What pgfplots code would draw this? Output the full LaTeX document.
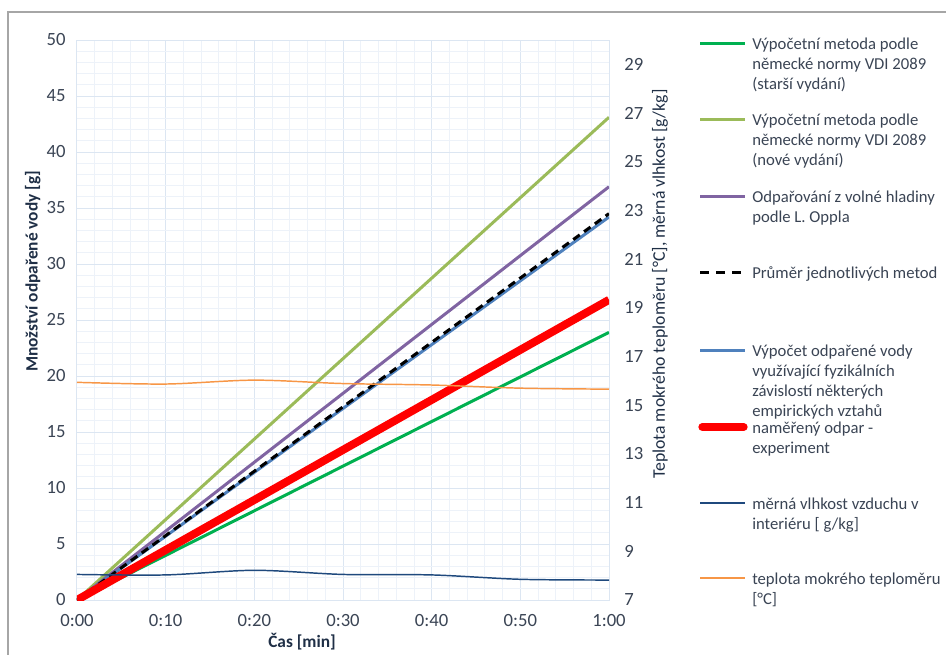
\documentclass[border=0pt]{standalone}
\usepackage{pgfplots}
\pgfplotsset{compat=1.18}
\usepackage{fontspec}
\setmainfont{Carlito}
\definecolor{cGreen}{HTML}{00B050}
\definecolor{cLGreen}{HTML}{9BBB59}
\definecolor{cPurple}{HTML}{8064A2}
\definecolor{cBlue}{HTML}{4F81BD}
\definecolor{cRed}{HTML}{FF0000}
\definecolor{cNavy}{HTML}{1F497D}
\definecolor{cOrange}{HTML}{F79646}
\definecolor{gridMaj}{HTML}{DCE6F2}
\definecolor{gridMin}{HTML}{EDF2F9}
\definecolor{txt}{HTML}{3A4454}
\definecolor{lbl}{HTML}{1F2F46}
\definecolor{frame}{HTML}{A6A6A6}
\newcommand{\lgtext}[1]{\begin{tabular}[t]{@{}l@{}}#1\end{tabular}}
\begin{document}
\begin{tikzpicture}
\useasboundingbox (-57.75pt,-40.5pt) rectangle (651.75pt,450pt);
\begin{axis}[
  scale only axis, width=399pt, height=420pt,
  xmin=0, xmax=60, ymin=0, ymax=50,
  xtick={0,10,...,60}, xticklabels={0:00,0:10,0:20,0:30,0:40,0:50,1:00},
  minor x tick num=4,
  ytick={0,5,...,50}, minor y tick num=4,
  grid=both,
  major grid style={gridMaj, line width=0.75pt},
  minor grid style={gridMin, line width=0.6pt},
  axis line style={gridMaj, line width=0.75pt},
  major tick length=0pt, minor tick length=0pt,
  ticklabel style={font=\fontsize{14}{16}\selectfont, text=txt},
  /pgf/number format/assume math mode=true,
  yticklabel style={xshift=-5pt},
  xticklabel style={yshift=-7pt},
  xlabel={Čas [min]},
  ylabel={Množství odpařené vody [g]},
  label style={font=\bfseries\fontsize{13}{15}\selectfont, text=lbl},
  xlabel style={at={(axis description cs:0.423,-0.075)}, anchor=center},
  ylabel style={at={(axis description cs:-0.083,0.587)}, anchor=center},
]
\addplot[cGreen, line width=2.25pt] coordinates {(0,0) (60,23.9)};
\addplot[cLGreen, line width=2.25pt] coordinates {(0,0) (60,43.1)};
\addplot[cPurple, line width=2.25pt] coordinates {(0,0) (60,36.9)};
\addplot[cBlue, line width=2.25pt] coordinates {(0,0) (60,34.2)};
\addplot[black, line width=2.25pt, dash pattern=on 6pt off 4pt] coordinates {(0,0) (60,34.5)};
\addplot[cRed, line width=6pt] coordinates {(0,0) (60,26.8)};
\end{axis}
\begin{axis}[
  scale only axis, width=399pt, height=420pt,
  xmin=0, xmax=60, ymin=7, ymax=30,
  axis y line*=right, axis x line=none,
  axis line style={draw=none},
  ytick={7,9,...,29},
  major tick length=0pt,
  ticklabel style={font=\fontsize{14}{16}\selectfont, text=txt},
  /pgf/number format/assume math mode=true,
  yticklabel style={xshift=8pt},
  ylabel={Teplota mokrého teploměru [°C], měrná vlhkost [g/kg]},
  label style={font=\fontsize{13.3}{15}\selectfont, text=lbl},
  ylabel style={at={(axis description cs:1.096,0.564)}, anchor=center, rotate=0},
]
\addplot[cNavy, line width=1.1pt, smooth] coordinates {(0,8.05) (10,8.03) (20,8.22) (30,8.05) (40,8.03) (50,7.85) (60,7.82)};
\addplot[cOrange, line width=1.1pt, smooth] coordinates {(0,15.94) (10,15.87) (20,16.03) (30,15.89) (40,15.83) (50,15.70) (60,15.66)};
\end{axis}
% frame
\draw[frame, line width=1.1pt] (-51.75pt,-50pt) -- (-51.75pt,441pt) -- (660pt,441pt);
% legend
\begin{scope}[every node/.style={anchor=base west, inner sep=0pt, text=txt, font=\fontsize{12.5}{15}\selectfont}]
\draw[cGreen, line width=2.25pt] (467.25pt,417pt) -- (501pt,417pt);
\node at (506.25pt,412.5pt) {\lgtext{Výpočetní metoda podle\\německé normy VDI 2089\\(starší vydání)}};
\draw[cLGreen, line width=2.25pt] (467.25pt,360pt) -- (501pt,360pt);
\node at (506.25pt,355.5pt) {\lgtext{Výpočetní metoda podle\\německé normy VDI 2089\\(nové vydání)}};
\draw[cPurple, line width=2.25pt] (467.25pt,302.25pt) -- (501pt,302.25pt);
\node at (506.25pt,297.75pt) {\lgtext{Odpařování z volné hladiny\\podle L. Oppla}};
\draw[black, line width=2.25pt, dash pattern=on 7pt off 5pt] (467.25pt,245.25pt) -- (501pt,245.25pt);
\node at (506.25pt,240.75pt) {\lgtext{Průměr jednotlivých metod}};
\draw[cBlue, line width=2.25pt] (467.25pt,187.5pt) -- (501pt,187.5pt);
\node at (506.25pt,183pt) {\lgtext{Výpočet odpařené vody\\využívající fyzikálních\\závislostí některých\\empirických vztahů}};
\draw[cRed, line width=6pt, line cap=round] (469pt,129.75pt) -- (500pt,129.75pt);
\node at (506.25pt,125.25pt) {\lgtext{naměřený odpar -\\experiment}};
\draw[cNavy, line width=1.1pt] (467.25pt,72.75pt) -- (501pt,72.75pt);
\node at (506.25pt,68.25pt) {\lgtext{měrná vlhkost vzduchu v\\interiéru [ g/kg]}};
\draw[cOrange, line width=1.1pt] (467.25pt,16.5pt) -- (501pt,16.5pt);
\node at (506.25pt,12pt) {\lgtext{teplota mokrého teploměru\\{[°C]}}};
\end{scope}
\end{tikzpicture}
\end{document}
